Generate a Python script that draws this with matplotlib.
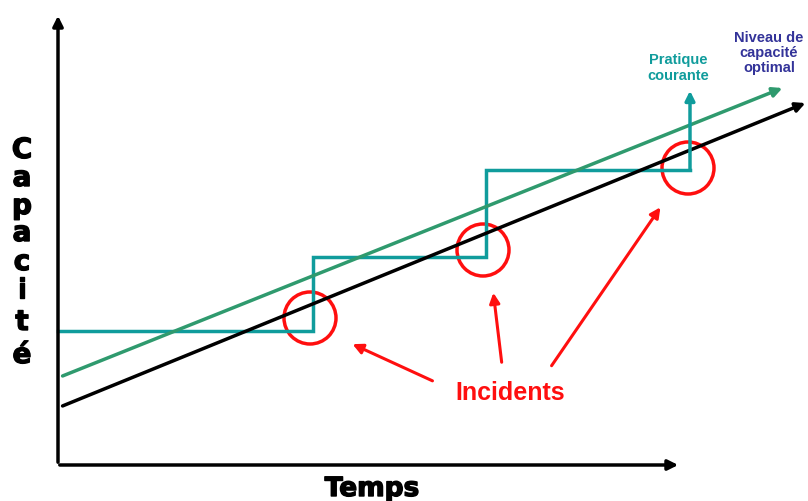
import matplotlib.pyplot as plt
import matplotlib.patheffects as pe
from matplotlib.patches import Circle

# time / capacity units (origin at the axes corner)
black_t = [2, 750]
black_c = [58, 363]
green_t = [2, 727]
green_c = [88, 378]
step_t = [0, 255, 255, 428, 428, 632, 632]
step_c = [134, 134, 208, 208, 295, 295, 377]
incident_t = [252, 425, 630]
incident_c = [147, 215, 297]
arrow_tips = [(292, 122), (435, 175), (604, 260)]
arrow_tails = [(377, 83), (444, 100), (492, 97)]

TEAL = '#109c9c'
GREEN = '#2f9a6e'
RED = '#ff0f0f'
NAVY = '#333399'

fig = plt.figure(figsize=(8.08, 5.01), dpi=100)
ax = fig.add_axes([0, 0, 1, 1])
ax.set_xlim(-58, 750)
ax.set_ylim(-36, 465)
ax.axis('off')

# axes arrows
ax.annotate('', xy=(0, 452), xytext=(0, 0),
            arrowprops=dict(arrowstyle='-|>', lw=2.5, color='black', mutation_scale=15))
ax.annotate('', xy=(623, 0), xytext=(-1, 0),
            arrowprops=dict(arrowstyle='-|>', lw=2.5, color='black', mutation_scale=15))

# trend lines
ax.annotate('', xy=(black_t[1], black_c[1]), xytext=(black_t[0], black_c[0]),
            arrowprops=dict(arrowstyle='-|>', lw=2.5, color='black', mutation_scale=14))
ax.annotate('', xy=(green_t[1], green_c[1]), xytext=(green_t[0], green_c[0]),
            arrowprops=dict(arrowstyle='-|>', lw=2.5, color=GREEN, mutation_scale=14))

# current practice (steps)
ax.plot(step_t[:-1], step_c[:-1], color=TEAL, lw=2.5, solid_joinstyle='miter')
ax.annotate('', xy=(step_t[-1], step_c[-1]), xytext=(step_t[-2], step_c[-2]),
            arrowprops=dict(arrowstyle='-|>', lw=2.5, color=TEAL, mutation_scale=14,
                            shrinkA=0))

# incident circles
for t, c in zip(incident_t, incident_c):
    ax.add_patch(Circle((t, c), 26, fill=False, ec=RED, lw=2.5))

for tip, tail in zip(arrow_tips, arrow_tails):
    ax.annotate('', xy=tip, xytext=tail,
                arrowprops=dict(arrowstyle='-|>', lw=2.2, color=RED, mutation_scale=15))

ax.text(452, 72, 'Incidents', color=RED, fontsize=18, fontweight='bold',
        family='Liberation Sans', ha='center', va='center')

ax.text(620, 397, 'Pratique\ncourante', color=TEAL, fontsize=10.5, fontweight='bold',
        family='Liberation Sans', ha='center', va='center', linespacing=1.1)
ax.text(711, 412, 'Niveau de\ncapacité\noptimal', color=NAVY, fontsize=10.5,
        fontweight='bold', family='Liberation Sans', ha='center', va='center',
        linespacing=1.1)

# axis titles (heavy, Arial Black look)
heavy = [pe.withStroke(linewidth=1.0, foreground='black')]
letters = list('Capacité')
letter_c = [315, 287, 259, 232, 203, 175, 143, 110]
for ch, c in zip(letters, letter_c):
    ax.text(-36, c, ch, fontsize=20, fontweight='heavy', ha='center', va='center',
            family='DejaVu Sans', path_effects=heavy)
ax.text(314, -24, 'Temps', fontsize=19, fontweight='heavy', ha='center', va='center',
        family='DejaVu Sans', path_effects=heavy)

fig.savefig('out.png', dpi=100)
